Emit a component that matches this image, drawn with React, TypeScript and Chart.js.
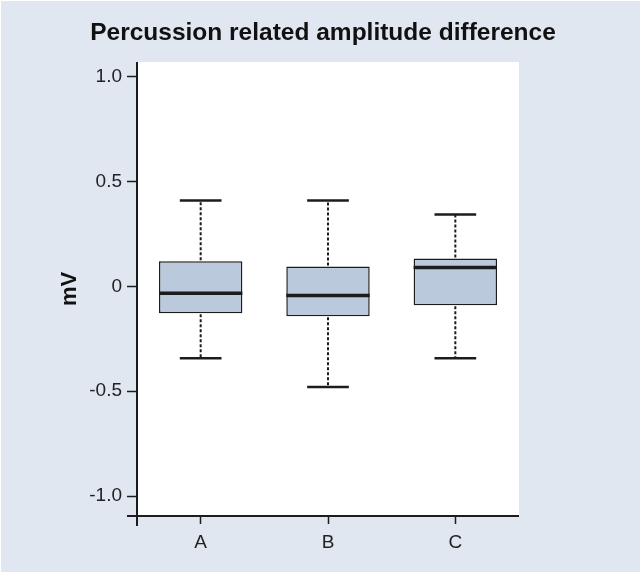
import React, { useEffect, useRef } from "react";
import { Chart, registerables } from "chart.js";

Chart.register(...registerables);

const chartTitle = "Percussion related amplitude difference";
const yAxisTitle = "mV";
const categories = ["A", "B", "C"];
const whiskerLow = [-0.343, -0.48, -0.343];
const q1 = [-0.128, -0.143, -0.09];
const median = [-0.033, -0.043, 0.09];
const q3 = [0.12, 0.095, 0.133];
const whiskerHigh = [0.41, 0.41, 0.343];
const yTickValues = [-1.0, -0.5, 0, 0.5, 1.0];

const BG = "#e1e7f1";
const INK = "#1c1c1c";
const BOX_FILL = "#bac9dc";
const FONT = "Liberation Sans, Arial, sans-serif";

const boxPlotPlugin = {
  id: "boxPlotExtras",
  beforeDraw(chart: any) {
    const { ctx, chartArea } = chart;
    ctx.save();
    ctx.fillStyle = "#ffffff";
    ctx.fillRect(0, 0, chart.width, chart.height);
    ctx.fillStyle = BG;
    ctx.fillRect(1, 1, chart.width - 2, chart.height - 2);
    ctx.fillStyle = "#ffffff";
    ctx.fillRect(chartArea.left, chartArea.top, chartArea.right - chartArea.left, chartArea.bottom - chartArea.top);
    ctx.fillStyle = "#111111";
    ctx.font = `bold 24.5px ${FONT}`;
    ctx.textAlign = "center";
    ctx.textBaseline = "middle";
    ctx.fillText(chartTitle, 323, 33);
    ctx.restore();
  },
  afterDatasetsDraw(chart: any) {
    const { ctx } = chart;
    const y = chart.scales.y;
    const meta = chart.getDatasetMeta(0);
    ctx.save();
    meta.data.forEach((bar: any, i: number) => {
      const x = bar.x;
      const w = bar.width;
      const yHi = y.getPixelForValue(whiskerHigh[i]);
      const yLo = y.getPixelForValue(whiskerLow[i]);
      const yQ1 = y.getPixelForValue(q1[i]);
      const yQ3 = y.getPixelForValue(q3[i]);
      const yMed = y.getPixelForValue(median[i]);
      ctx.strokeStyle = INK;
      ctx.lineWidth = 2;
      ctx.setLineDash([3, 2]);
      ctx.beginPath();
      ctx.moveTo(x, yQ3 - 1);
      ctx.lineTo(x, yHi);
      ctx.moveTo(x, yQ1 + 1);
      ctx.lineTo(x, yLo);
      ctx.stroke();
      ctx.setLineDash([]);
      ctx.lineWidth = 2.5;
      ctx.beginPath();
      ctx.moveTo(x - w / 4, yHi);
      ctx.lineTo(x + w / 4, yHi);
      ctx.moveTo(x - w / 4, yLo);
      ctx.lineTo(x + w / 4, yLo);
      ctx.stroke();
      ctx.lineWidth = 3.5;
      ctx.beginPath();
      ctx.moveTo(x - w / 2, yMed);
      ctx.lineTo(x + w / 2, yMed);
      ctx.stroke();
    });
    ctx.restore();
  },
  afterDraw(chart: any) {
    const { ctx, chartArea } = chart;
    ctx.save();
    ctx.strokeStyle = INK;
    ctx.lineWidth = 2;
    ctx.beginPath();
    ctx.moveTo(chartArea.left, chartArea.top);
    ctx.lineTo(chartArea.left, chartArea.bottom + 10);
    ctx.moveTo(chartArea.left - 10, chartArea.bottom);
    ctx.lineTo(chartArea.right, chartArea.bottom);
    ctx.stroke();
    ctx.restore();
  },
};

export default function App() {
  const ref = useRef<HTMLCanvasElement | null>(null);

  useEffect(() => {
    document.body.style.margin = "0";
    const canvas = ref.current;
    if (!canvas) return;
    const chart = new Chart(canvas, {
      type: "bar",
      data: {
        labels: categories,
        datasets: [
          {
            data: categories.map((_, i) => [q1[i], q3[i]]) as any,
            backgroundColor: BOX_FILL,
            borderColor: INK,
            borderWidth: 1.5,
            borderSkipped: false,
            categoryPercentage: 1,
            barPercentage: 0.655,
          },
        ],
      },
      options: {
        responsive: false,
        animation: false,
        devicePixelRatio: 1,
        layout: { padding: { left: 0, right: 122, top: 62, bottom: 0 } },
        plugins: {
          legend: { display: false },
          tooltip: { enabled: false },
          title: { display: false },
        },
        scales: {
          x: {
            type: "category",
            offset: true,
            afterFit: (s: any) => {
              s.height = 57;
            },
            grid: {
              display: true,
              offset: false,
              drawOnChartArea: false,
              drawTicks: true,
              tickLength: 8,
              tickColor: INK,
              tickWidth: 1.5,
            },
            border: { display: false },
            ticks: {
              color: "#222222",
              padding: 7,
              font: { family: FONT, size: 19 },
            },
          },
          y: {
            type: "linear",
            min: -1.095,
            max: 1.07,
            afterFit: (s: any) => {
              s.width = 137;
            },
            afterBuildTicks: (s: any) => {
              s.ticks = yTickValues.map((v) => ({ value: v }));
            },
            grid: {
              display: true,
              drawOnChartArea: false,
              drawTicks: true,
              tickLength: 10,
              tickColor: INK,
              tickWidth: 1.5,
            },
            border: { display: false },
            ticks: {
              color: "#222222",
              padding: 5,
              font: { family: FONT, size: 19 },
              callback: (v: any) => (Number(v) === 0 ? "0" : Number(v).toFixed(1)),
            },
            title: {
              display: true,
              text: yAxisTitle,
              color: "#111111",
              font: { family: FONT, size: 22, weight: "bold", lineHeight: 1.2 },
              padding: { top: 57, bottom: 0 },
            },
          },
        },
      },
      plugins: [boxPlotPlugin],
    });
    return () => chart.destroy();
  }, []);

  return (
    <div style={{ width: 641, height: 573 }}>
      <canvas ref={ref} width={641} height={573} style={{ display: "block" }} />
    </div>
  );
}
